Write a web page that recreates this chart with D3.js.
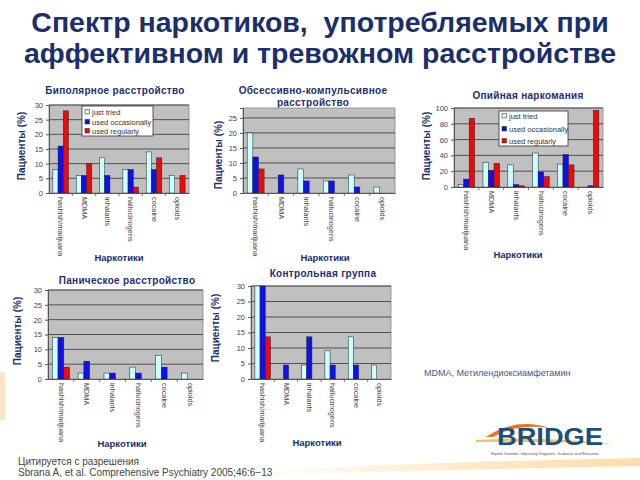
<!DOCTYPE html>
<html><head><meta charset="utf-8">
<script src="https://cdn.jsdelivr.net/npm/d3@7"></script>
<style>
html,body{margin:0;padding:0;background:#fff;}
svg{display:block;font-family:"Liberation Sans",Arial,sans-serif;}
text.title{white-space:pre;}
</style></head>
<body><svg id="c" width="640" height="480"></svg>
<script>
// ---- data ----
const categories = ["hashish/marijuana","MDMA","inhalants","hallucinogens","cocaine","opioids"];
const seriesNames = ["just tried","used occasionally","used regularly"];

const bipolarTried = [8, 6, 12, 8, 14, 6];
const bipolarOccasional = [16, 6, 6, 8, 8, 0];
const bipolarRegular = [28, 10, 0, 2, 12, 6];

const ocdTried = [20, 0, 8, 4, 6, 2];
const ocdOccasional = [12, 6, 4, 4, 2, 0];
const ocdRegular = [8, 0, 0, 0, 0, 0];

const opiateTried = [3, 31, 28, 43, 29, 0];
const opiateOccasional = [10, 21, 3, 19, 41, 1.5];
const opiateRegular = [87, 30, 1.5, 13, 28, 97];

const panicTried = [14, 2, 2, 4, 8, 2];
const panicOccasional = [14, 6, 2, 2, 4, 0];
const panicRegular = [4, 0, 0, 0, 0, 0];

const controlTried = [31.8, 0, 4.5, 9.1, 13.6, 4.5];
const controlOccasional = [31.8, 4.5, 13.6, 4.5, 4.5, 0];
const controlRegular = [13.6, 0, 0, 0, 0, 0];

const ticks30 = [0,5,10,15,20,25,30];
const ticks25 = [0,5,10,15,20,25];
const ticks100 = [0,20,40,60,80,100];

const titleLines = ["Спектр наркотиков,  употребляемых при","аффективном и тревожном расстройстве"];
const yTitle = "Пациенты (%)";
const xTitle = "Наркотики";

// ---- layout ----
const colors = ["#ccffff","#1010ee","#ee0a0a"];
const navy = "#1b2f6b";
const svg = d3.select("#c");

// faint decorations
svg.append("rect").attr("x",0).attr("y",372).attr("width",5).attr("height",48).attr("fill","#fbe3cc");
const defs = svg.append("defs");
const g1 = defs.append("linearGradient").attr("id","sw").attr("x1","0").attr("x2","1");
g1.append("stop").attr("offset","0").attr("stop-color","#fde9c8").attr("stop-opacity",0);
g1.append("stop").attr("offset","0.6").attr("stop-color","#fde3b5").attr("stop-opacity",0.8);
g1.append("stop").attr("offset","1").attr("stop-color","#fcd9a0").attr("stop-opacity",0.9);
svg.append("path").attr("d","M230,472 Q430,462 640,458 L640,466 Q430,470 230,476 Z").attr("fill","url(#sw)");

svg.selectAll("text.title").data(titleLines).join("text").attr("class","title")
  .attr("x",320).attr("y",(d,i)=>32+i*31).attr("text-anchor","middle")
  .attr("font-size",28.5).attr("font-weight","bold").attr("fill",navy).text(d=>d);

const panels = [
  {title:["Биполярное расстройство"], tx:115, ty:[94], vals:[bipolarTried,bipolarOccasional,bipolarRegular],
   x0:49,x1:189,top:105,bottom:193,max:30,ticks:ticks30,ytx:25,yty:146,xtx:119,xty:261,
   legend:{x:82,y:106,w:71,h:30,dy:[112,122,131]}},
  {title:["Обсессивно-компульсивное","расстройство"], tx:313, ty:[94,106], vals:[ocdTried,ocdOccasional,ocdRegular],
   x0:243,x1:395,top:108,bottom:193,max:28.3,ticks:ticks25,ytx:222,yty:155,xtx:325,xty:261},
  {title:["Опийная наркомания"], tx:528, ty:[99], vals:[opiateTried,opiateOccasional,opiateRegular],
   x0:454,x1:603,top:108,bottom:187,max:100,ticks:ticks100,ytx:430,yty:146,xtx:518,xty:258,
   legend:{x:499,y:111,w:69,h:35,dy:[116,129,141]}},
  {title:["Паническое расстройство"], tx:127, ty:[284], vals:[panicTried,panicOccasional,panicRegular],
   x0:48,x1:203,top:290,bottom:379,max:30,ticks:ticks30,ytx:21,yty:331,xtx:122,xty:447},
  {title:["Контрольная группа"], tx:323, ty:[277], vals:[controlTried,controlOccasional,controlRegular],
   x0:251,x1:391,top:286,bottom:379,max:30,ticks:ticks30,ytx:219,yty:328,xtx:317,xty:446}
];

panels.forEach(p=>{
  const g = svg.append("g");
  const x = d3.scaleBand().domain(categories).range([p.x0,p.x1]).paddingInner(0).paddingOuter(0);
  const bw = x.bandwidth()/4.5;
  const xs = d3.scaleBand().domain(seriesNames).range([0.75*bw, 3.75*bw]).padding(0);
  const y = d3.scaleLinear().domain([0,p.max]).range([p.bottom,p.top]).clamp(true);

  p.title.forEach((t,i)=>g.append("text").attr("x",p.tx).attr("y",p.ty[i]).attr("text-anchor","middle")
    .attr("font-size",10).attr("font-weight","bold").attr("fill",navy).attr("letter-spacing",0.3).text(t));

  g.append("rect").attr("x",p.x0).attr("y",p.top).attr("width",p.x1-p.x0).attr("height",p.bottom-p.top)
    .attr("fill","#c0c0c0").attr("stroke","#888").attr("stroke-width",0.8);

  g.selectAll("line.grid").data(p.ticks.filter(t=>t>0)).join("line")
    .attr("x1",p.x0).attr("x2",p.x1).attr("y1",d=>y(d)).attr("y2",d=>y(d))
    .attr("stroke","#333").attr("stroke-width",0.8);

  p.vals.forEach((arr,si)=>{
    g.selectAll("rect.s"+si).data(arr.map((v,i)=>({v,c:categories[i]}))).join("rect")
      .filter(d=>d.v>0)
      .attr("x",d=>x(d.c)+xs(seriesNames[si])).attr("width",xs.bandwidth())
      .attr("y",d=>y(d.v)).attr("height",d=>p.bottom-y(d.v))
      .attr("fill",colors[si]).attr("stroke","#222").attr("stroke-width",0.5);
  });

  const ya = g.append("g").attr("transform",`translate(${p.x0},0)`)
    .call(d3.axisLeft(y).tickValues(p.ticks).tickSize(3).tickPadding(3).tickFormat(d3.format("d")));
  ya.select(".domain").attr("stroke","#555");
  ya.selectAll(".tick line").attr("stroke","#555");
  ya.selectAll("text").attr("font-size",7.5).attr("fill","#444").attr("font-family","Liberation Sans, Arial, sans-serif");

  const xa = g.append("g").attr("transform",`translate(0,${p.bottom})`)
    .call(d3.axisBottom(x).tickSize(0).tickPadding(0));
  xa.select(".domain").attr("stroke","#555");
  xa.selectAll(".tick text").attr("font-size",7.3).attr("fill","#444")
    .attr("font-family","Liberation Sans, Arial, sans-serif")
    .attr("text-anchor","start").attr("dy","0.32em")
    .attr("transform","translate(0,4) rotate(90)").attr("y",0).attr("x",0);
  g.selectAll("line.ct").data(categories.slice(1)).join("line")
    .attr("x1",d=>x(d)).attr("x2",d=>x(d)).attr("y1",p.bottom).attr("y2",p.bottom+3)
    .attr("stroke","#555").attr("stroke-width",0.8);

  g.append("text").attr("transform",`translate(${p.ytx},${p.yty}) rotate(-90)`).attr("text-anchor","middle")
    .attr("font-size",10).attr("font-weight","bold").attr("fill",navy).text(yTitle);
  g.append("text").attr("x",p.xtx).attr("y",p.xty).attr("text-anchor","middle")
    .attr("font-size",9.5).attr("font-weight","bold").attr("fill",navy).text(xTitle);

  if(p.legend){
    const L=p.legend;
    g.append("rect").attr("x",L.x).attr("y",L.y).attr("width",L.w).attr("height",L.h)
      .attr("fill","#fff").attr("stroke","#333").attr("stroke-width",0.8);
    seriesNames.forEach((s,i)=>{
      g.append("rect").attr("x",L.x+3).attr("y",L.dy[i]-2.5).attr("width",4.5).attr("height",4.5)
        .attr("fill",colors[i]).attr("stroke","#222").attr("stroke-width",0.5);
      g.append("text").attr("x",L.x+10).attr("y",L.dy[i]+2.5).attr("font-size",7.5).attr("fill","#333").text(s);
    });
  }
});

svg.append("text").attr("x",424).attr("y",376).attr("font-size",9).attr("fill","#45568a").text("MDMA, Метилендиоксиамфетамин");
svg.append("text").attr("x",18).attr("y",465).attr("font-size",10).attr("fill","#444").text("Цитируется с разрешения");
svg.append("text").attr("x",18).attr("y",476).attr("font-size",10).attr("fill","#444").text("Sbrana A, et al. Comprehensive Psychiatry 2005;46:6\u221213");

const lg = svg.append("g");
lg.append("path").attr("d","M486,437 Q515,417 550,428 Q516,423 493,437 Z").attr("fill","#e8742a");
lg.append("path").attr("d","M476,440 Q540,436 614,444 Q540,441 476,442 Z").attr("fill","#f3c35a");
lg.append("text").attr("x",497).attr("y",445).attr("font-size",24).attr("font-weight","bold")
  .attr("fill","#1d4f7c").attr("textLength",106).attr("lengthAdjust","spacingAndGlyphs").text("BRIDGE");
lg.append("text").attr("x",545).attr("y",455).attr("text-anchor","middle").attr("font-size",3.8).attr("fill","#555")
  .text("Bipolar Disorder: Improving Diagnosis, Guidance and Education");
</script>
</body></html>
